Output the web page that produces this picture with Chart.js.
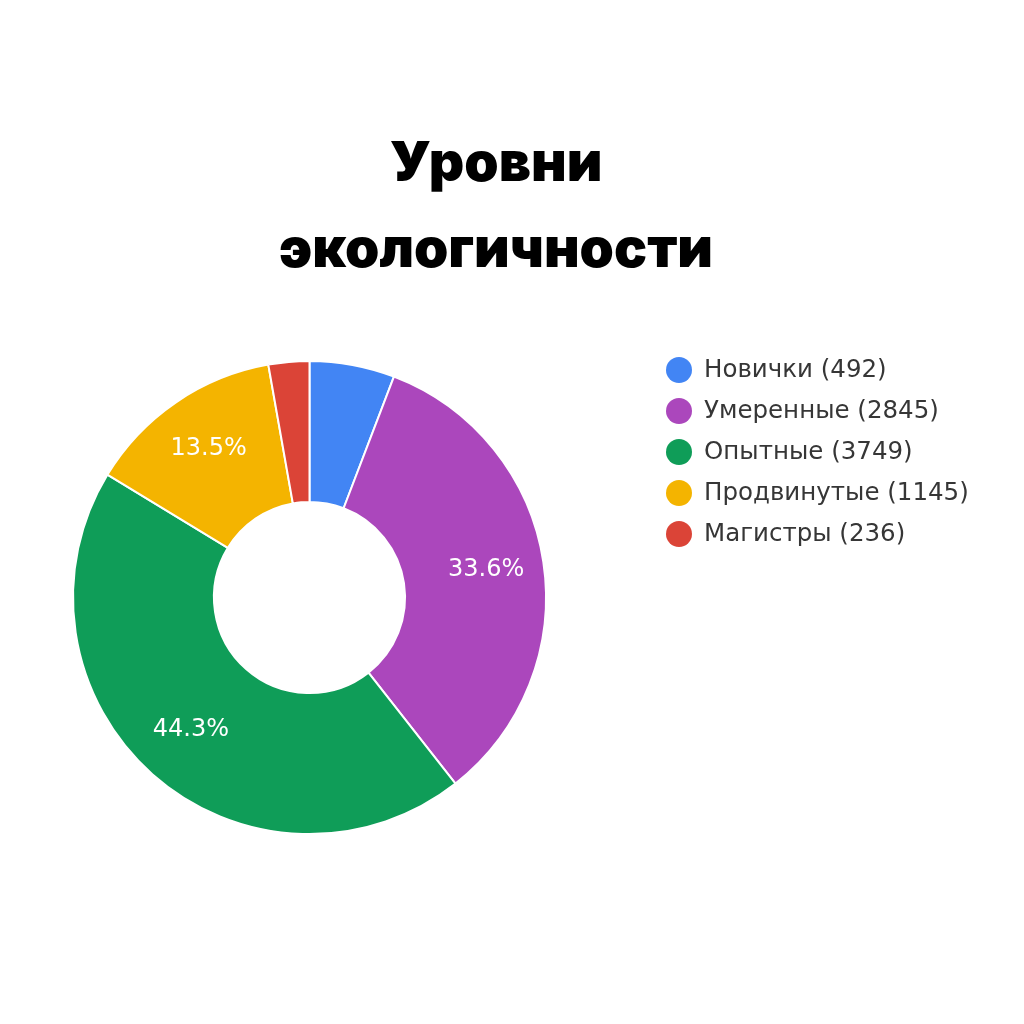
<!DOCTYPE html>
<html>
<head>
<meta charset="utf-8">
<script src="https://cdn.jsdelivr.net/npm/chart.js@4.4.1/dist/chart.umd.min.js"></script>
<style>
  html, body { margin: 0; padding: 0; background: #ffffff; }
  #wrap { position: relative; width: 1024px; height: 1024px; }
</style>
</head>
<body>
<div id="wrap"><canvas id="myChart" width="1024" height="1024"></canvas></div>
<script>
// Data
const titleLines = ['Уровни', 'экологичности'];
const categories = ['Новички', 'Умеренные', 'Опытные', 'Продвинутые', 'Магистры'];
const counts = [492, 2845, 3749, 1145, 236];
const sliceColors = ['#4285F4', '#AB47BC', '#0F9D58', '#F4B400', '#DB4437'];

const total = counts.reduce((a, b) => a + b, 0);

// Title drawn on the canvas, centred a bit left of the middle
const titlePlugin = {
    id: 'bigTitle',
    afterDraw(chart) {
        const ctx = chart.ctx;
        ctx.save();
        ctx.fillStyle = '#000000';
        ctx.font = '900 55px Inter, Lato, sans-serif';
        ctx.textAlign = 'center';
        ctx.textBaseline = 'alphabetic';
        titleLines.forEach((line, i) => {
            ctx.fillText(line, 496, 181 + i * 86);
        });
        ctx.restore();
    }
};

// Legend with round markers, to the right of the doughnut
const sideLegend = {
    id: 'sideLegend',
    afterDraw(chart) {
        const ctx = chart.ctx;
        ctx.save();
        ctx.font = '24.5px "DejaVu Sans", sans-serif';
        ctx.textBaseline = 'middle';
        ctx.textAlign = 'left';
        categories.forEach((name, i) => {
            const y = 370 + i * 41;
            ctx.beginPath();
            ctx.arc(679, y, 13, 0, Math.PI * 2);
            ctx.fillStyle = sliceColors[i];
            ctx.fill();
            ctx.fillStyle = '#363636';
            ctx.fillText(name + ' (' + counts[i] + ')', 704, y + 1);
        });
        ctx.restore();
    }
};

// Percent labels inside the larger slices
const sliceLabels = {
    id: 'sliceLabels',
    afterDatasetsDraw(chart) {
        const ctx = chart.ctx;
        const meta = chart.getDatasetMeta(0);
        ctx.save();
        ctx.font = '24px "DejaVu Sans", sans-serif';
        ctx.fillStyle = '#ffffff';
        ctx.textAlign = 'center';
        ctx.textBaseline = 'middle';
        meta.data.forEach((arc, i) => {
            const pct = counts[i] / total * 100;
            if (pct < 10) return;
            const p = arc.getProps(['x', 'y', 'startAngle', 'endAngle', 'innerRadius', 'outerRadius'], true);
            const mid = (p.startAngle + p.endAngle) / 2;
            const r = p.innerRadius + 0.59 * (p.outerRadius - p.innerRadius);
            ctx.fillText(pct.toFixed(1) + '%', p.x + Math.cos(mid) * r, p.y + Math.sin(mid) * r - 1);
        });
        ctx.restore();
    }
};

const ctx1 = document.getElementById('myChart');

const myChart = new Chart(ctx1, {
    type: 'doughnut',
    data: {
        labels: categories,
        datasets: [{
            data: counts,
            backgroundColor: sliceColors,
            borderColor: '#ffffff',
            borderWidth: 2
        }]
    },
    options: {
        responsive: false,
        animation: false,
        cutout: '40.4%',
        layout: {
            padding: { left: 72, right: 477, top: 360, bottom: 189 }
        },
        plugins: {
            legend: { display: false },
            title: { display: false },
            tooltip: { enabled: false }
        }
    },
    plugins: [titlePlugin, sideLegend, sliceLabels]
});
</script>
</body>
</html>
